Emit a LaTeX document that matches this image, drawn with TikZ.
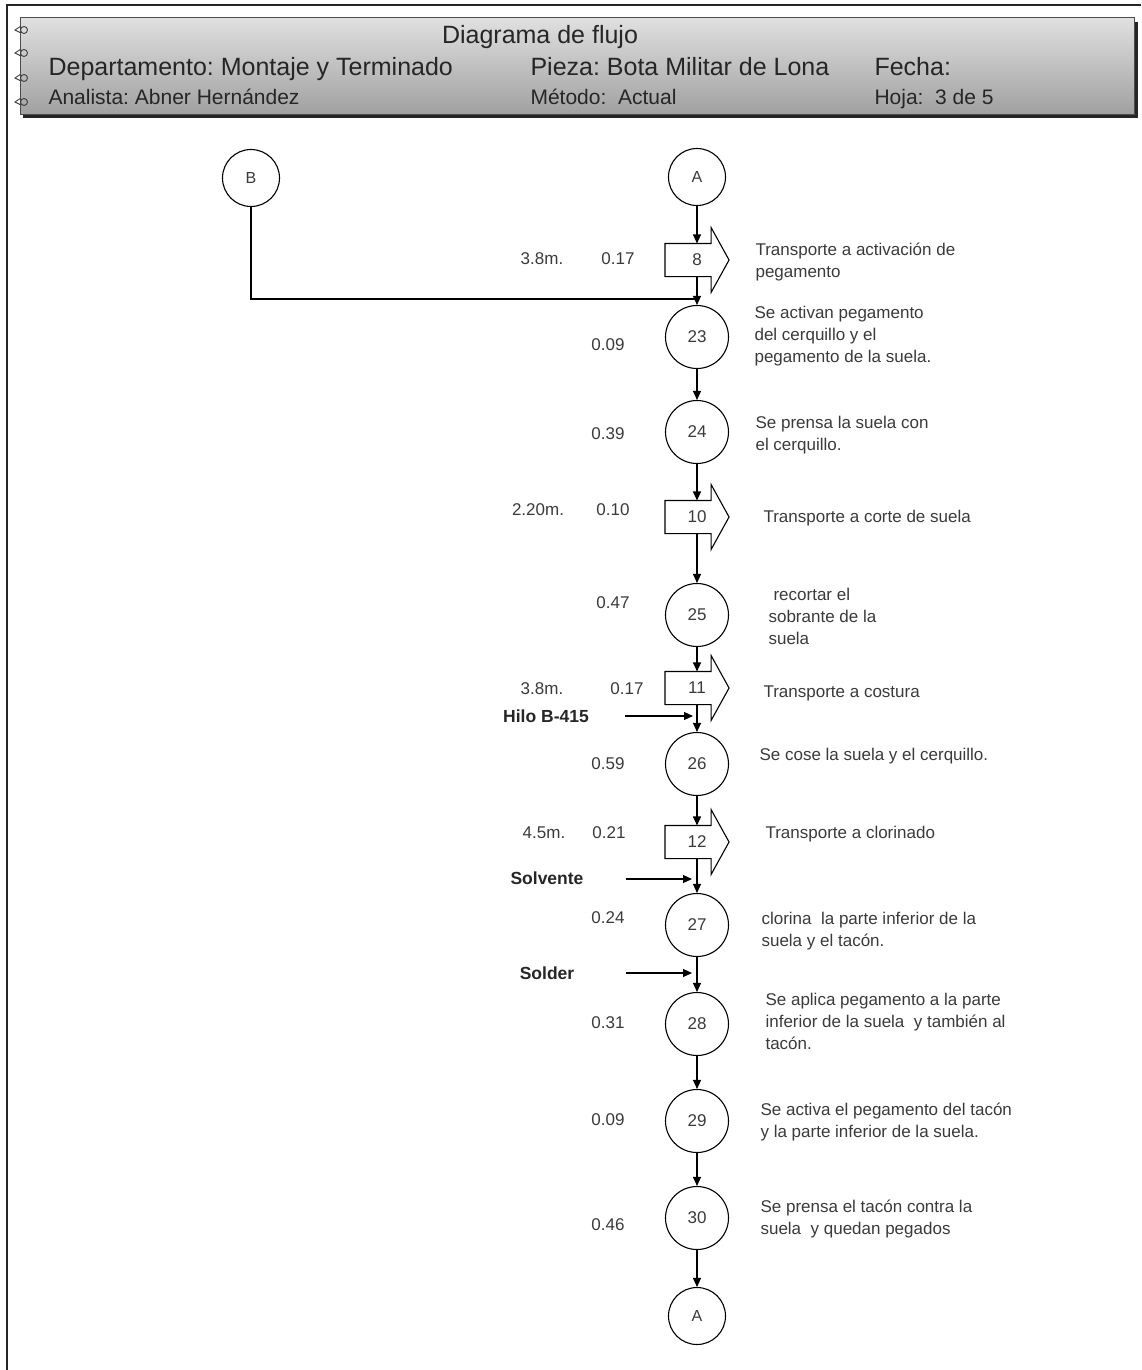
\documentclass[tikz,border=0pt]{standalone}
\usepackage{fontspec}
\setmainfont{Liberation Sans}
\frenchspacing
\usetikzlibrary{arrows.meta, positioning}
\definecolor{textogris}{HTML}{3A3A3A}
\definecolor{cajaclara}{HTML}{E0E0E0}
\definecolor{cajaoscura}{HTML}{A0A0A0}

% contorno de la flecha de transporte alrededor de un nodo
\newcommand{\contornotransp}[1]{%
  \draw (#1.north west) -- ([xshift=-18pt]#1.north east) -- ++(0,-16)
    -- (#1.east) -- ([xshift=-18pt,yshift=-16pt]#1.south east)
    -- ([xshift=-18pt]#1.south east) -- (#1.south west) -- cycle;}

\begin{document}
\begin{tikzpicture}[x=1pt, y=-1pt, line width=1.1pt, >={Triangle[length=9pt,width=8pt]}]
    \tikzstyle{operacion}=[circle, draw, minimum size=63pt, inner sep=0pt, font=\fontsize{17}{18}\selectfont, text=textogris]
    \tikzstyle{conector}=[operacion, minimum size=57pt, font=\fontsize{16}{18}\selectfont]
    \tikzstyle{transporte}=[rectangle, minimum width=63pt, minimum height=32pt, inner sep=0pt, font=\fontsize{17}{18}\selectfont, text=textogris]
    \tikzstyle{descripcion}=[anchor=north west, align=left, inner sep=0pt, font=\fontsize{17}{22}\selectfont, text=textogris]
    \tikzstyle{tiempo}=[inner sep=0pt, font=\fontsize{17}{20}\selectfont, text=textogris]
    \tikzstyle{insumo}=[inner sep=0pt, font=\fontsize{17.5}{20}\selectfont\bfseries, text=black!85]
    \tikzstyle{encabezado}=[anchor=base west, inner sep=0pt, text=black!85]

    \useasboundingbox (0,0) rectangle (1141,1370);
    \draw[line width=1.6pt, black!85] (1141,5) -- (7,5) -- (7,1370);

    % encabezado
    \fill[black!85] (23,22) rectangle (1138,118);
    \shadedraw[top color=cajaclara, bottom color=cajaoscura, draw=black!70, line width=1pt] (20,18) rectangle (1134,115);
    \foreach \y in {30,53,78,102}
        \draw[line width=0.9pt, black!75] (24,\y) circle (3.5) (21,\y-4) -- (15,\y) -- (21,\y+3);

    \node[encabezado, anchor=base, font=\fontsize{25}{28}\selectfont] (titulo) at (540,44) {Diagrama de flujo};
    \node[encabezado, font=\fontsize{25}{28}\selectfont] (depto) at (48,76) {Departamento: Montaje y Terminado};
    \node[encabezado, font=\fontsize{25}{28}\selectfont] (pieza) at (530,76) {Pieza: Bota Militar de Lona};
    \node[encabezado, font=\fontsize{25}{28}\selectfont] (fecha) at (874,76) {Fecha:};
    \node[encabezado, font=\fontsize{21}{24}\selectfont] (analista) at (48,105) {Analista: Abner Hernández};
    \node[encabezado, font=\fontsize{21}{24}\selectfont] (metodo) at (530,105) {Método:~ Actual};
    \node[encabezado, font=\fontsize{21}{24}\selectfont] (hoja) at (874,105) {Hoja:~ 3 de 5};

    % simbolos del diagrama
    \node[conector] (A1) at (697,177) {A};
    \node[conector] (B) at (251,178) {B};
    \node[transporte] (t8) at (697,260) {8};
    \node[operacion] (o23) at (697,337) {23};
    \node[operacion] (o24) at (697,432) {24};
    \node[transporte] (t10) at (697,517) {10};
    \node[operacion] (o25) at (697,615) {25};
    \node[transporte] (t11) at (697,688) {11};
    \node[operacion] (o26) at (697,764) {26};
    \node[transporte] (t12) at (697,842) {12};
    \node[operacion] (o27) at (697,925) {27};
    \node[operacion] (o28) at (697,1024) {28};
    \node[operacion] (o29) at (697,1121) {29};
    \node[operacion] (o30) at (697,1218) {30};
    \node[conector] (A2) at (697,1316) {A};

    \contornotransp{t8}
    \contornotransp{t10}
    \contornotransp{t11}
    \contornotransp{t12}

    % flujo principal
    \draw[->] (A1) -- (t8);
    \draw[->] (t8) -- (o23);
    \draw[->] (o23) -- (o24);
    \draw[->] (o24) -- (t10);
    \draw[->] (t10) -- (o25);
    \draw[->] (o25) -- (t11);
    \draw[->] (t11) -- (o26);
    \draw[->] (o26) -- (t12);
    \draw[->] (t12) -- (o27);
    \draw[->] (o27) -- (o28);
    \draw[->] (o28) -- (o29);
    \draw[->] (o29) -- (o30);
    \draw[->] (o30) -- (A2);

    \coordinate (unionB) at (695,299);
    \draw (B) |- (unionB);

    % insumos
    \node[insumo] (hilo) at (546,716) {Hilo B-415};
    \node[insumo] (solvente) at (547,878) {Solvente};
    \node[insumo] (solder) at (547,973) {Solder};
    \coordinate (hilo-ini) at (625,716);    \coordinate (hilo-fin) at (693,716);
    \coordinate (solv-ini) at (626,879);    \coordinate (solv-fin) at (692,879);
    \coordinate (sold-ini) at (626,973);    \coordinate (sold-fin) at (692,973);
    \draw[->] (hilo-ini) -- (hilo-fin);
    \draw[->] (solv-ini) -- (solv-fin);
    \draw[->] (sold-ini) -- (sold-fin);

    % distancias y tiempos
    \node[tiempo] (d8) at (542,259) {3.8m.};
    \node[tiempo] (h8) at (618,259) {0.17};
    \node[tiempo] (h23) at (608,345) {0.09};
    \node[tiempo] (h24) at (608,434) {0.39};
    \node[tiempo] (d10) at (538,510) {2.20m.};
    \node[tiempo] (h10) at (613,510) {0.10};
    \node[tiempo] (h25) at (613,603) {0.47};
    \node[tiempo] (d11) at (542,689) {3.8m.};
    \node[tiempo] (h11) at (627,689) {0.17};
    \node[tiempo] (h26) at (608,764) {0.59};
    \node[tiempo] (d12) at (544,833) {4.5m.};
    \node[tiempo] (h12) at (609,833) {0.21};
    \node[tiempo] (h27) at (608,918) {0.24};
    \node[tiempo] (h28) at (608,1023) {0.31};
    \node[tiempo] (h29) at (608,1120) {0.09};
    \node[tiempo] (h30) at (608,1225) {0.46};

    % descripciones
    \node[descripcion] (x8) at (755,242) {Transporte a activación de\\pegamento};
    \node[descripcion] (x23) at (754,306) {Se activan pegamento\\del cerquillo y el\\pegamento de la suela.};
    \node[descripcion] (x24) at (755,416) {Se prensa la suela con\\el cerquillo.};
    \node[descripcion] (x10) at (763,510) {Transporte a corte de suela};
    \node[descripcion] (x25) at (768,588) {\hspace{5pt}recortar el\\sobrante de la\\suela};
    \node[descripcion] (x11) at (763,685) {Transporte a costura};
    \node[descripcion] (x26) at (759,748) {Se cose la suela y el cerquillo.};
    \node[descripcion] (x12) at (765,826) {Transporte a clorinado};
    \node[descripcion] (x27) at (761,912) {clorina~ la parte inferior de la\\suela y el tacón.};
    \node[descripcion] (x28) at (765,993) {Se aplica pegamento a la parte\\inferior de la suela~ y también al\\tacón.};
    \node[descripcion] (x29) at (760,1102) {Se activa el pegamento del tacón\\y la parte inferior de la suela.};
    \node[descripcion] (x30) at (760,1199) {Se prensa el tacón contra la\\suela~ y quedan pegados};
\end{tikzpicture}
\end{document}
